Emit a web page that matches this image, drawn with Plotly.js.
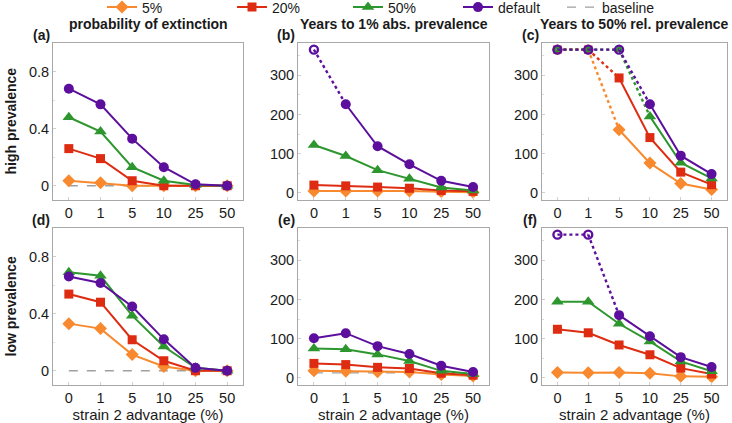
<!DOCTYPE html>
<html>
<head>
<meta charset="utf-8">
<script src="https://cdn.plot.ly/plotly-3.0.1.min.js"></script>
<style>html,body{margin:0;padding:0;background:#fff;}#chart{width:732px;height:423px;}</style>
</head>
<body>
<div id="chart"></div>
<script>
// ---------- data ----------
const categories = ['0', '1', '5', '10', '25', '50'];
const CAP = 365; // value at which "not reached" points are plotted (open markers, dotted lines)

const seriesNames = ['5%', '20%', '50%', 'default'];
const seriesColors = ['#F8892E', '#DE2C12', '#2E962E', '#5C0F9C'];
const seriesSymbols = ['diamond', 'square', 'triangle-up', 'circle'];

// (a) high prevalence - probability of extinction
const a_5 = [0.035, 0.02, 0.0, 0.0, 0.0, 0.0];
const a_20 = [0.26, 0.19, 0.035, 0.0, 0.0, 0.0];
const a_50 = [0.48, 0.38, 0.13, 0.035, 0.005, 0.0];
const a_def = [0.68, 0.57, 0.33, 0.13, 0.01, 0.0];
const a_base = [0, 0, 0, 0, 0, 0];

// (b) high prevalence - years to 1% abs. prevalence
const b_5 = [5, 5, 5, 5, 3, 2];
const b_20 = [20, 18, 15, 12, 6, 4];
const b_50 = [122, 94, 58, 36, 14, 6];
const b_def = [365, 226, 119, 73, 31, 15];
const b_base = [5, 5, 5, 5, 5, 5];

// (c) high prevalence - years to 50% rel. prevalence
const c_5 = [365, 365, 161, 76, 24, 9];
const c_20 = [365, 365, 293, 141, 53, 21];
const c_50 = [365, 365, 365, 195, 77, 37];
const c_def = [365, 365, 365, 226, 95, 48];

// (d) low prevalence - probability of extinction
const d_5 = [0.33, 0.295, 0.113, 0.03, 0.0, 0.0];
const d_20 = [0.537, 0.48, 0.217, 0.07, 0.0, 0.0];
const d_50 = [0.69, 0.665, 0.386, 0.17, 0.02, 0.0];
const d_def = [0.66, 0.615, 0.45, 0.22, 0.02, 0.0];
const d_base = [0, 0, 0, 0, 0, 0];

// (e) low prevalence - years to 1% abs. prevalence
const e_5 = [18, 17, 16, 15, 9, 5];
const e_20 = [37, 34, 27, 24, 12, 7];
const e_50 = [75, 73, 60, 43, 18, 10];
const e_def = [101, 114, 81, 61, 31, 15];
const e_base = [13, 13, 13, 13, 13, 13];

// (f) low prevalence - years to 50% rel. prevalence
const f_5 = [14, 13, 14, 12, 4, 3];
const f_20 = [124, 115, 84, 59, 25, 10];
const f_50 = [194, 194, 138, 93, 42, 17];
const f_def = [365, 365, 160, 106, 53, 28];

const columnTitles = ['probability of extinction', 'Years to 1% abs. prevalence', 'Years to 50% rel. prevalence'];
const rowTitles = ['high prevalence', 'low prevalence'];
const panelLabels = ['(a)', '(b)', '(c)', '(d)', '(e)', '(f)'];
const xTitle = 'strain 2 advantage (%)';
const probTicks = [0, 0.4, 0.8];
const yearTicks = [0, 100, 200, 300];

const panels = [
  {series: [a_5, a_20, a_50, a_def], base: a_base},
  {series: [b_5, b_20, b_50, b_def], base: b_base},
  {series: [c_5, c_20, c_50, c_def], base: null},
  {series: [d_5, d_20, d_50, d_def], base: d_base},
  {series: [e_5, e_20, e_50, e_def], base: e_base},
  {series: [f_5, f_20, f_50, f_def], base: null}
];

// ---------- layout geometry (pixels) ----------
const W = 732, H = 423;
const colX = [[53, 243], [298, 489], [542, 727]];
const rowY = [[43, 200], [228, 385]];
const px = v => v / W;
const py = v => 1 - v / H;

const FONT = 'Liberation Sans, Arial, sans-serif';
const TXT = '#1a1a1a';
const traces = [];
const layout = {
  width: W, height: H,
  margin: {l: 0, r: 0, t: 0, b: 0, autoexpand: false},
  paper_bgcolor: '#fff', plot_bgcolor: '#fff',
  font: {family: FONT, size: 14, color: TXT},
  annotations: [],
  showlegend: true
};

panels.forEach((p, k) => {
  const row = Math.floor(k / 3), col = k % 3;
  const n = k + 1;
  const xa = 'x' + (n === 1 ? '' : n), ya = 'y' + (n === 1 ? '' : n);
  const xk = 'xaxis' + (n === 1 ? '' : n), yk = 'yaxis' + (n === 1 ? '' : n);
  const isProb = col === 0;
  layout[xk] = {
    domain: [px(colX[col][0]), px(colX[col][1])],
    anchor: ya, type: 'category', range: [-0.5, 5.5],
    showline: true, mirror: true, linecolor: '#a8a8a8', linewidth: 1,
    ticks: 'inside', ticklen: 3, tickcolor: '#d0d0d0',
    showgrid: false, zeroline: false, fixedrange: true, automargin: false,
    tickfont: {size: 14.5, color: TXT},
    title: row === 1 ? {text: xTitle, font: {size: 15, color: TXT}, standoff: 3} : {text: ''}
  };
  layout[yk] = {
    domain: [py(rowY[row][1]), py(rowY[row][0])],
    anchor: xa,
    range: isProb ? [-0.1, 1.0] : [-18, 382],
    tickvals: isProb ? probTicks : yearTicks,
    showline: true, mirror: true, linecolor: '#a8a8a8', linewidth: 1,
    ticks: 'inside', ticklen: 3, tickcolor: '#d0d0d0',
    minor: {dtick: isProb ? 0.2 : 50, ticks: 'inside', ticklen: 2, tickcolor: '#dddddd', tick0: 0},
    showgrid: false, zeroline: false, fixedrange: true, automargin: false,
    tickfont: {size: 14.5, color: TXT}
  };

  // baseline
  if (p.base) {
    traces.push({
      x: categories, y: p.base, xaxis: xa, yaxis: ya, mode: 'lines',
      line: {color: '#a0a0a0', width: 1.3, dash: 'dash'},
      name: 'baseline', legend: 'legend5', showlegend: k === 0, hoverinfo: 'skip'
    });
  }

  p.series.forEach((vals, s) => {
    const color = seriesColors[s];
    const cens = vals.map(v => v >= CAP);
    // dotted segments touching censored points
    const dx = [], dy = [];
    for (let i = 0; i < vals.length - 1; i++) {
      if (cens[i] || cens[i + 1]) {
        dx.push(categories[i], categories[i + 1], categories[i + 1]);
        dy.push(vals[i], vals[i + 1], null);
      }
    }
    if (dx.length) {
      traces.push({
        x: dx, y: dy, xaxis: xa, yaxis: ya, mode: 'lines', connectgaps: false,
        line: {color: color, width: 2.4, dash: 'dot'}, showlegend: false, hoverinfo: 'skip'
      });
    }
    // solid finite series
    traces.push({
      x: categories, y: vals.map((v, i) => cens[i] ? null : v),
      xaxis: xa, yaxis: ya, mode: 'lines+markers', connectgaps: false,
      line: {color: color, width: 2},
      marker: {color: color, symbol: seriesSymbols[s], size: s === 2 ? 11 : (s === 1 ? 9 : 10)},
      name: seriesNames[s], legend: s === 0 ? 'legend' : 'legend' + (s + 1),
      showlegend: k === 0
    });
    // open markers for censored points
    const ox = [], oy = [];
    vals.forEach((v, i) => { if (cens[i]) { ox.push(categories[i]); oy.push(v); } });
    if (ox.length) {
      traces.push({
        x: ox, y: oy, xaxis: xa, yaxis: ya, mode: 'markers',
        marker: {color: color, symbol: seriesSymbols[s] + '-open', size: s === 3 ? 8 : 6, line: {width: 2.4, color: color}},
        showlegend: false, hoverinfo: 'skip'
      });
    }
  });

  // panel label
  layout.annotations.push({
    text: '<b>' + panelLabels[k] + '</b>', xref: 'paper', yref: 'paper',
    x: px(colX[col][0] - 12), y: py(row === 0 ? 35 : 220),
    xanchor: 'center', yanchor: 'middle', showarrow: false,
    font: {size: 14, color: TXT}
  });
});

// column titles
columnTitles.forEach((t, c) => {
  layout.annotations.push({
    text: '<b>' + t + '</b>', xref: 'paper', yref: 'paper',
    x: px((colX[c][0] + colX[c][1]) / 2), y: py(23.5),
    xanchor: 'center', yanchor: 'middle', showarrow: false,
    font: {size: 14, color: TXT}
  });
});
// row titles
rowTitles.forEach((t, r) => {
  layout.annotations.push({
    text: '<b>' + t + '</b>', xref: 'paper', yref: 'paper',
    x: px(10), y: py((rowY[r][0] + rowY[r][1]) / 2),
    xanchor: 'center', yanchor: 'middle', showarrow: false, textangle: -90,
    font: {size: 14, color: TXT}
  });
});

// legends (one item each, positioned individually)
const legendX = [102, 232, 348, 458, 562];
['legend', 'legend2', 'legend3', 'legend4', 'legend5'].forEach((lg, i) => {
  layout[lg] = {
    orientation: 'h', x: px(legendX[i]), y: py(7.5), xanchor: 'left', yanchor: 'middle',
    font: {size: 14, color: TXT}, bgcolor: 'rgba(0,0,0,0)', borderwidth: 0
  };
});

Plotly.newPlot('chart', traces, layout, {displayModeBar: false, staticPlot: true});
</script>
</body>
</html>
